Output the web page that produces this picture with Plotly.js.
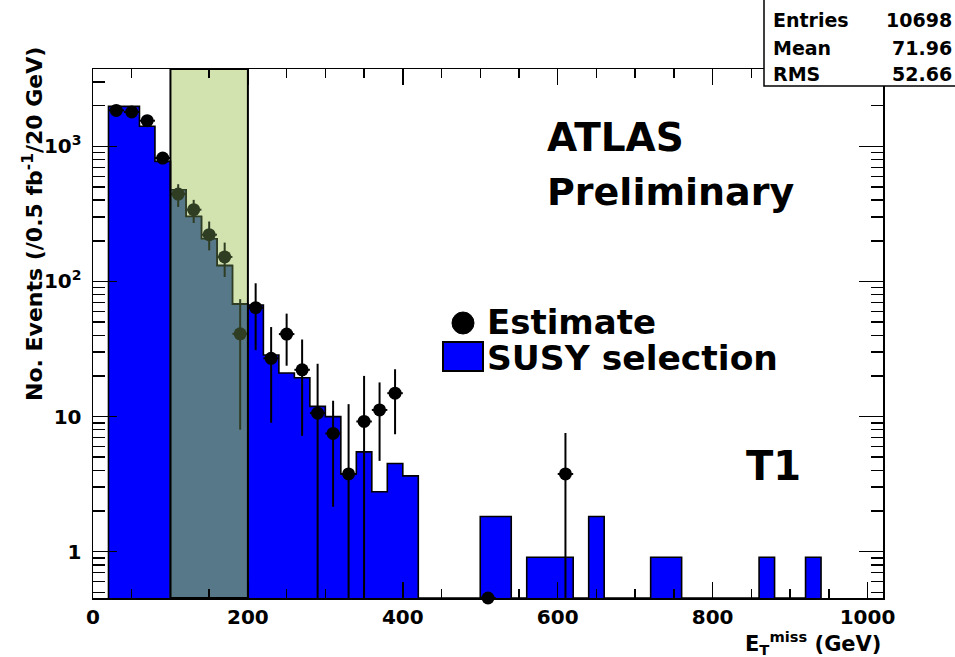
<!DOCTYPE html>
<html><head><meta charset="utf-8">
<script src="https://cdn.plot.ly/plotly-3.0.1.min.js"></script>
<style>html,body{margin:0;padding:0;background:#fff}</style>
</head><body><div id="chart" style="width:955px;height:657px"></div>
<script>
// ---- data ----
const binCenters = [30,50,70,90,110,130,150,170,190,210,230,250,270,290,310,330,350,370,390,410,
  430,450,470,490,510,530,550,570,590,610,630,650,670,690,710,730,750,770,790,810,830,850,870,890,910,930];
const susyValues = [1980,1980,1410,775,478,303,207,131,68,67,28.6,21,19.4,11.9,10.0,3.76,5.48,2.78,4.49,3.64,
  0,0,0,0,1.82,1.82,0,0.91,0.91,0.91,0,1.82,0,0,0,0.91,0.91,0,0,0,0,0,0.91,0,0,0.91];
const estX = [30,50,70,90,110,130,150,170,190,210,230,250,270,290,310,330,350,370,390,510,610];
const estY = [1848,1798,1550,820,444,340,222,152,41,64,27,40.8,22.2,10.6,7.5,3.76,9.2,11.2,14.9,0.454,3.76];
const estErrUp = [45,43,40,30,81,62,56,42,33,33,19,17,15,14,5.6,8.6,10.8,6.7,7.5,0,3.8];
const estErrDown = [45,43,40,30,88,69,52,44,33,33,18,17,15,10.6,5.35,3.76,9.2,6.5,7.5,0,3.76];
const controlRegion = [100, 200];
const binWidth = 20;
const xTickVals = [0,200,400,600,800,1000];
const yTickVals = [1,10,100,1000];
const yTickText = ['1','10','10<sup>2</sup>','10<sup>3</sup>'];
const statsLabels = ['Entries','Mean','RMS'];
const statsValues = ['10698','71.96','52.66'];

// ---- layout geometry ----
const W = 955, H = 657, L = 93, R = 883, T = 69, B = 598;
const logMin = -0.343, logMax = 3.573;
const yMin = Math.pow(10, logMin);
const FONT = 'DejaVu Sans, Liberation Sans, Arial, sans-serif';
const px = x => (x - L) / (R - L);
const py = y => (B - y) / (B - T);
const half = binWidth / 2;

function histPath(centers, vals) {
  const xs = [centers[0] - half], ys = [yMin];
  centers.forEach((c, i) => {
    const v = vals[i] > 0 ? vals[i] : yMin;
    xs.push(c - half, c + half); ys.push(v, v);
  });
  xs.push(centers[centers.length - 1] + half); ys.push(yMin);
  return {xs, ys};
}
const inCR = c => c - half >= controlRegion[0] && c + half <= controlRegion[1];

const full = histPath(binCenters, susyValues);
const crC = binCenters.filter(inCR), crV = susyValues.filter((v, i) => inCR(binCenters[i]));
const cr = histPath(crC, crV);

const errDownClamped = estErrDown.map((e, i) => (e >= estY[i] ? estY[i] - yMin : e));
function pick(cond) {
  const idx = estX.map((x, i) => i).filter(i => cond(estX[i]));
  return {
    x: idx.map(i => estX[i]), y: idx.map(i => estY[i]),
    up: idx.map(i => estErrUp[i]), dn: idx.map(i => errDownClamped[i])
  };
}
const ptsIn = pick(x => x > controlRegion[0] && x < controlRegion[1]);
const ptsOut = pick(x => !(x > controlRegion[0] && x < controlRegion[1]));

const olive = '#2f3d23';
function estTrace(p, col) {
  return {
    type: 'scatter', mode: 'markers', x: p.x, y: p.y, cliponaxis: false, showlegend: false,
    marker: {symbol: 'circle', size: 13, color: col},
    error_y: {type: 'data', symmetric: false, array: p.up, arrayminus: p.dn, color: col, thickness: 2, width: 0},
    error_x: {type: 'constant', value: half, color: col, thickness: 2, width: 0},
    hoverinfo: 'x+y'
  };
}

const traces = [
  {type: 'scatter', mode: 'lines', x: full.xs, y: full.ys, fill: 'toself', fillcolor: '#0000ff',
   line: {color: '#000', width: 1.6}, showlegend: false, hoverinfo: 'skip'},
  {type: 'scatter', mode: 'lines', x: cr.xs, y: cr.ys, fill: 'toself', fillcolor: '#577889',
   line: {color: olive, width: 1.6}, showlegend: false, hoverinfo: 'skip'},
  estTrace(ptsOut, '#000'),
  estTrace(ptsIn, olive)
];

const minorY = [];
for (let d = -1; d <= 3; d++) for (let k = 2; k <= 9; k++) minorY.push(k * Math.pow(10, d));

const tickFont = {family: FONT, size: 20, color: '#000', weight: 'bold'};
const annBase = {xref: 'paper', yref: 'paper', showarrow: false, borderpad: 0};
const annotations = [
  Object.assign({}, annBase, {x: px(546), y: py(137.5), xanchor: 'left', yanchor: 'middle', text: 'ATLAS',
    font: {family: FONT, size: 39, color: '#000', weight: 'bold'}}),
  Object.assign({}, annBase, {x: px(546), y: py(192), xanchor: 'left', yanchor: 'middle', text: 'Preliminary',
    font: {family: FONT, size: 38, color: '#000', weight: 'bold'}}),
  Object.assign({}, annBase, {x: px(486), y: py(322), xanchor: 'left', yanchor: 'middle', text: 'Estimate',
    font: {family: FONT, size: 34, color: '#000', weight: 'bold'}}),
  Object.assign({}, annBase, {x: px(486), y: py(358), xanchor: 'left', yanchor: 'middle', text: 'SUSY selection',
    font: {family: FONT, size: 34.5, color: '#000', weight: 'bold'}}),
  Object.assign({}, annBase, {x: px(745), y: py(466), xanchor: 'left', yanchor: 'middle', text: 'T1',
    font: {family: FONT, size: 40, color: '#000', weight: 'bold'}}),
  Object.assign({}, annBase, {x: px(882), y: py(643), xanchor: 'right', yanchor: 'middle',
    text: 'E<sub>T</sub><sup>miss</sup> (GeV)', font: {family: FONT, size: 21, color: '#000', weight: 'bold'}}),
  Object.assign({}, annBase, {x: px(33), y: py(46), xanchor: 'center', yanchor: 'top', textangle: -90,
    text: 'No. Events (/0.5 fb<sup>-1</sup>/20 GeV)', font: {family: FONT, size: 22, color: '#000', weight: 'bold'}})
];
const statsY = [20, 48, 74];
statsLabels.forEach((s, i) => {
  annotations.push(Object.assign({}, annBase, {x: px(772), y: py(statsY[i]), xanchor: 'left', yanchor: 'middle',
    text: s, font: {family: FONT, size: 19, color: '#000', weight: 'bold'}}));
  annotations.push(Object.assign({}, annBase, {x: px(953), y: py(statsY[i]), xanchor: 'right', yanchor: 'middle',
    text: statsValues[i], font: {family: FONT, size: 19, color: '#000', weight: 'bold'}}));
});

const shapes = [
  {type: 'rect', layer: 'below', xref: 'x', yref: 'paper', x0: controlRegion[0], x1: controlRegion[1], y0: 0, y1: 1,
   fillcolor: '#d3e3b0', line: {width: 0}},
  {type: 'rect', layer: 'above', xref: 'x', yref: 'paper', x0: controlRegion[0], x1: controlRegion[1], y0: 0, y1: 1,
   fillcolor: 'rgba(0,0,0,0)', line: {color: '#000', width: 2}},
  // legend symbols
  {type: 'circle', layer: 'above', xref: 'paper', yref: 'paper', x0: px(452), x1: px(474), y0: py(334), y1: py(312),
   fillcolor: '#000', line: {color: '#000', width: 1}},
  {type: 'rect', layer: 'above', xref: 'paper', yref: 'paper', x0: px(443), x1: px(483), y0: py(371), y1: py(342),
   fillcolor: '#0000ff', line: {color: '#000', width: 2}},
  // stats box
  {type: 'rect', layer: 'above', xref: 'paper', yref: 'paper', x0: px(764), x1: px(962), y0: py(86), y1: py(-6),
   fillcolor: '#fff', line: {color: '#000', width: 1.5}}
];

const layout = {
  width: W, height: H,
  margin: {l: L, r: W - R, t: T, b: H - B, pad: 0},
  paper_bgcolor: '#fff', plot_bgcolor: '#fff',
  showlegend: false,
  font: {family: FONT, color: '#000'},
  xaxis: {
    range: [0, 1020], tickmode: 'array', tickvals: xTickVals, ticktext: xTickVals.map(String),
    ticks: 'inside', ticklen: 16, tickwidth: 1.5, tickcolor: '#000',
    showline: true, linecolor: '#000', linewidth: 1.5, mirror: 'ticks',
    showgrid: false, zeroline: false, tickfont: tickFont,
    minor: {tickmode: 'linear', tick0: 0, dtick: 50, ticks: 'inside', ticklen: 9, tickwidth: 1.5, tickcolor: '#000', showgrid: false}
  },
  yaxis: {
    type: 'log', range: [logMin, logMax], tickmode: 'array', tickvals: yTickVals, ticktext: yTickText,
    ticks: 'inside', ticklen: 24, tickwidth: 1.5, tickcolor: '#000', ticklabelstandoff: 6,
    showline: true, linecolor: '#000', linewidth: 1.5, mirror: 'ticks',
    showgrid: false, zeroline: false, tickfont: tickFont,
    minor: {tickmode: 'array', tickvals: minorY, ticks: 'inside', ticklen: 12, tickwidth: 1.5, tickcolor: '#000', showgrid: false}
  },
  shapes: shapes,
  annotations: annotations
};

Plotly.newPlot('chart', traces, layout, {displayModeBar: false, staticPlot: true});
</script>
</body></html>
